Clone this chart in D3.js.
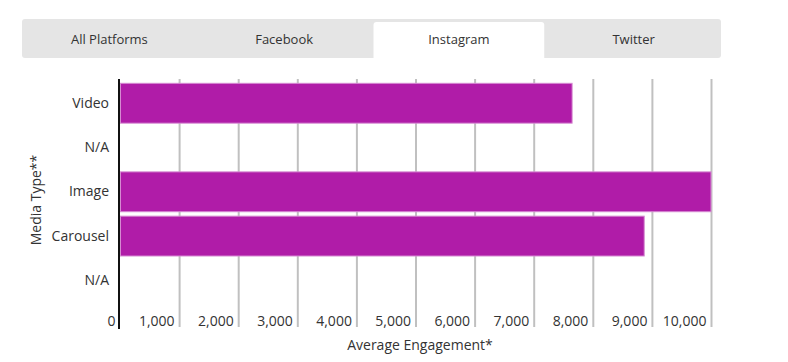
<!DOCTYPE html>
<html>
<head>
<meta charset="utf-8">
<script src="https://cdn.jsdelivr.net/npm/d3@7"></script>
<style>
  html, body { margin: 0; padding: 0; background: #fff; }
  svg { display: block; font-family: "Open Sans", sans-serif; }
</style>
</head>
<body>
<svg id="chart" width="788" height="362"></svg>
<script>
const tabs = ["All Platforms", "Facebook", "Instagram", "Twitter"];
const activeTab = "Instagram";
const categories = ["Video", "N/A", "Image", "Carousel", "N/A"];
const values = [7650, null, 10000, 8870, null];
const xTicks = [0, 1000, 2000, 3000, 4000, 5000, 6000, 7000, 8000, 9000, 10000];
const xTitle = "Average Engagement*";
const yTitle = "Media Type**";

const svg = d3.select("#chart");

// Tabs
const tabX = d3.scaleBand().domain(tabs).range([22, 721]);
svg.append("rect").attr("x", 22).attr("y", 19).attr("width", 699).attr("height", 39)
  .attr("rx", 3).attr("fill", "#e5e5e5");
svg.append("path")
  .attr("d", () => {
    const x0 = tabX(activeTab) + 2, x1 = tabX(activeTab) + tabX.bandwidth() - 2, y0 = 22, y1 = 58, r = 3;
    return `M${x0},${y1}V${y0 + r}Q${x0},${y0} ${x0 + r},${y0}H${x1 - r}Q${x1},${y0} ${x1},${y0 + r}V${y1}Z`;
  })
  .attr("fill", "#fff");
svg.selectAll("text.tab").data(tabs).join("text")
  .attr("class", "tab")
  .attr("x", d => tabX(d) + tabX.bandwidth() / 2)
  .attr("y", 44)
  .attr("text-anchor", "middle")
  .attr("font-size", 13)
  .attr("fill", "#333")
  .text(d => d);

// Scales
const x = d3.scaleLinear().domain([0, 10000]).range([120, 711]);
const idx = categories.map((d, i) => i);
const y = d3.scaleBand().domain(idx).range([81.1, 302.5]).paddingInner(0.1).paddingOuter(0.05);
const plotTop = 79, plotBottom = 327;

// Gridlines via axis
const grid = svg.append("g").attr("transform", `translate(0,${plotBottom})`)
  .call(d3.axisBottom(x).tickValues(xTicks.slice(1)).tickSize(-(plotBottom - plotTop)).tickFormat(""));
grid.select(".domain").remove();
grid.selectAll(".tick line").attr("stroke", "#c0c0c0").attr("stroke-width", 2);

// Bars
svg.selectAll("rect.bar").data(values.map((v, i) => ({ v, i })).filter(d => d.v != null)).join("rect")
  .attr("class", "bar")
  .attr("x", x(0) + 0.5)
  .attr("y", d => y(d.i))
  .attr("width", d => x(d.v) - x(0) - 0.5)
  .attr("height", y.bandwidth())
  .attr("fill", "#b01ca8")
  .attr("stroke", "#d68ad2")
  .attr("stroke-width", 1);

// X tick labels
const xAxis = svg.append("g").attr("transform", `translate(0,${plotBottom})`)
  .call(d3.axisBottom(x).tickValues(xTicks).tickSize(0).tickFormat(d3.format(",")));
xAxis.select(".domain").remove();
xAxis.selectAll(".tick text")
  .attr("font-family", "Open Sans, sans-serif")
  .attr("font-size", 14)
  .attr("fill", "#333")
  .attr("text-anchor", "end")
  .attr("dx", -5)
  .attr("y", -1)
  .attr("dy", 0);

// Y axis labels
const yAxis = svg.append("g").attr("transform", `translate(119,0)`)
  .call(d3.axisLeft(y).tickSize(0).tickPadding(10).tickFormat(i => categories[i]));
yAxis.select(".domain").remove();
yAxis.selectAll(".tick text")
  .attr("font-family", "Open Sans, sans-serif")
  .attr("font-size", 14)
  .attr("fill", "#333");

// Axis line
svg.append("line").attr("x1", 119).attr("x2", 119).attr("y1", plotTop).attr("y2", 329)
  .attr("stroke", "#111").attr("stroke-width", 2);

// Titles
svg.append("text").attr("x", 420).attr("y", 350).attr("text-anchor", "middle")
  .attr("font-size", 14).attr("fill", "#333").text(xTitle);
svg.append("text").attr("transform", "translate(41,200) rotate(-90)").attr("text-anchor", "middle")
  .attr("font-size", 14).attr("fill", "#333").text(yTitle);
</script>
</body>
</html>
